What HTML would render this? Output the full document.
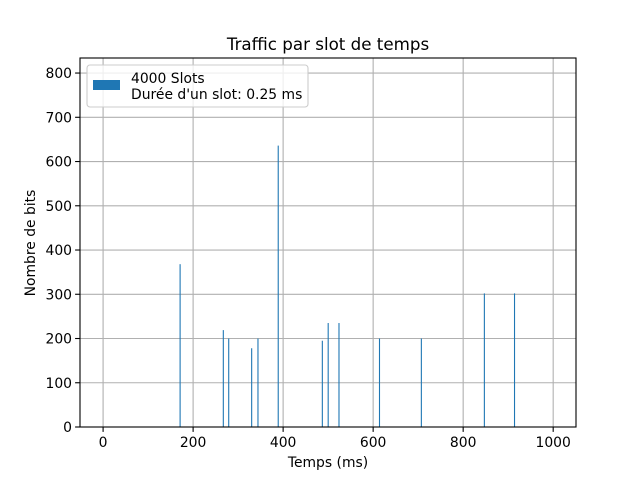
<!DOCTYPE html>
<html><head><meta charset="utf-8"><style>
body{margin:0;background:#fff;font-family:"Liberation Sans","DejaVu Sans",sans-serif;}
svg text{font-family:"DejaVu Sans","Liberation Sans",sans-serif;}
</style></head><body>
<svg id="c" width="640" height="480" xmlns="http://www.w3.org/2000/svg"></svg>
<script>
const times=[171,267,279,330,344,389,487,500,524,614,707,847,914];
const bits=[368,219,200,178,200,636,195,235,235,200,200,302,302];
const xTicks=[0,200,400,600,800,1000];
const yTicks=[0,100,200,300,400,500,600,700,800];
const L=80,R=576,T=58,B=427;
const xmin=-51.3,xmax=1050.7,ymin=0,ymax=834;
const X=v=>L+(v-xmin)/(xmax-xmin)*(R-L);
const Y=v=>B-(v-ymin)/(ymax-ymin)*(B-T);
const s=document.getElementById('c');
const NS='http://www.w3.org/2000/svg';
function mk(t,a,p){const e=document.createElementNS(NS,t);for(const k in a)e.setAttribute(k,a[k]);(p||s).appendChild(e);return e;}
const g=mk('g',{});


xTicks.forEach(v=>{mk('line',{x1:X(v),x2:X(v),y1:T,y2:B,stroke:'#b0b0b0','stroke-width':1.1},g);});
yTicks.forEach(v=>{mk('line',{x1:L,x2:R,y1:Y(v),y2:Y(v),stroke:'#b0b0b0','stroke-width':1.1},g);});
times.forEach((t,i)=>{
 const r=mk('rect',{x:X(t)-0.5,y:Y(bits[i]),width:1.1,height:Y(0)-Y(bits[i]),fill:'#1f77b4'});
 
 
});
mk('rect',{x:L,y:T,width:R-L,height:B-T,fill:'none',stroke:'#000','stroke-width':1.1});
xTicks.forEach(v=>{mk('line',{x1:X(v),x2:X(v),y1:B,y2:B+4.9,stroke:'#000','stroke-width':1.1});
 const t=mk('text',{x:X(v),y:B+20,'text-anchor':'middle','font-size':13.9});t.textContent=v;
 
 });
yTicks.forEach(v=>{mk('line',{x1:L-4.9,x2:L,y1:Y(v),y2:Y(v),stroke:'#000','stroke-width':1.1});
 const t=mk('text',{x:L-8,y:Y(v)+5,'text-anchor':'end','font-size':13.9});t.textContent=v;
 
 });
let t=mk('text',{x:(L+R)/2,y:50,'text-anchor':'middle','font-size':16.7});t.textContent='Traffic par slot de temps';


t=mk('text',{x:(L+R)/2,y:467,'text-anchor':'middle','font-size':13.9});t.textContent='Temps (ms)';


t=mk('text',{x:0,y:0,'text-anchor':'middle','font-size':13.9,transform:'translate(35,243) rotate(-90)'});t.textContent='Nombre de bits';


const lg=mk('g',{});


mk('rect',{x:87,y:65,width:221,height:42,rx:3,fill:'#fff','fill-opacity':0.8,stroke:'#ccc','stroke-width':1.1},lg);
mk('rect',{x:93,y:80,width:27,height:10,fill:'#1f77b4'},lg);
t=mk('text',{x:131,y:83,'font-size':13.9},lg);t.textContent='4000 Slots';
t=mk('text',{x:131,y:99,'font-size':13.9},lg);t.textContent="Durée d'un slot: 0.25 ms";
</script>
</body></html>
